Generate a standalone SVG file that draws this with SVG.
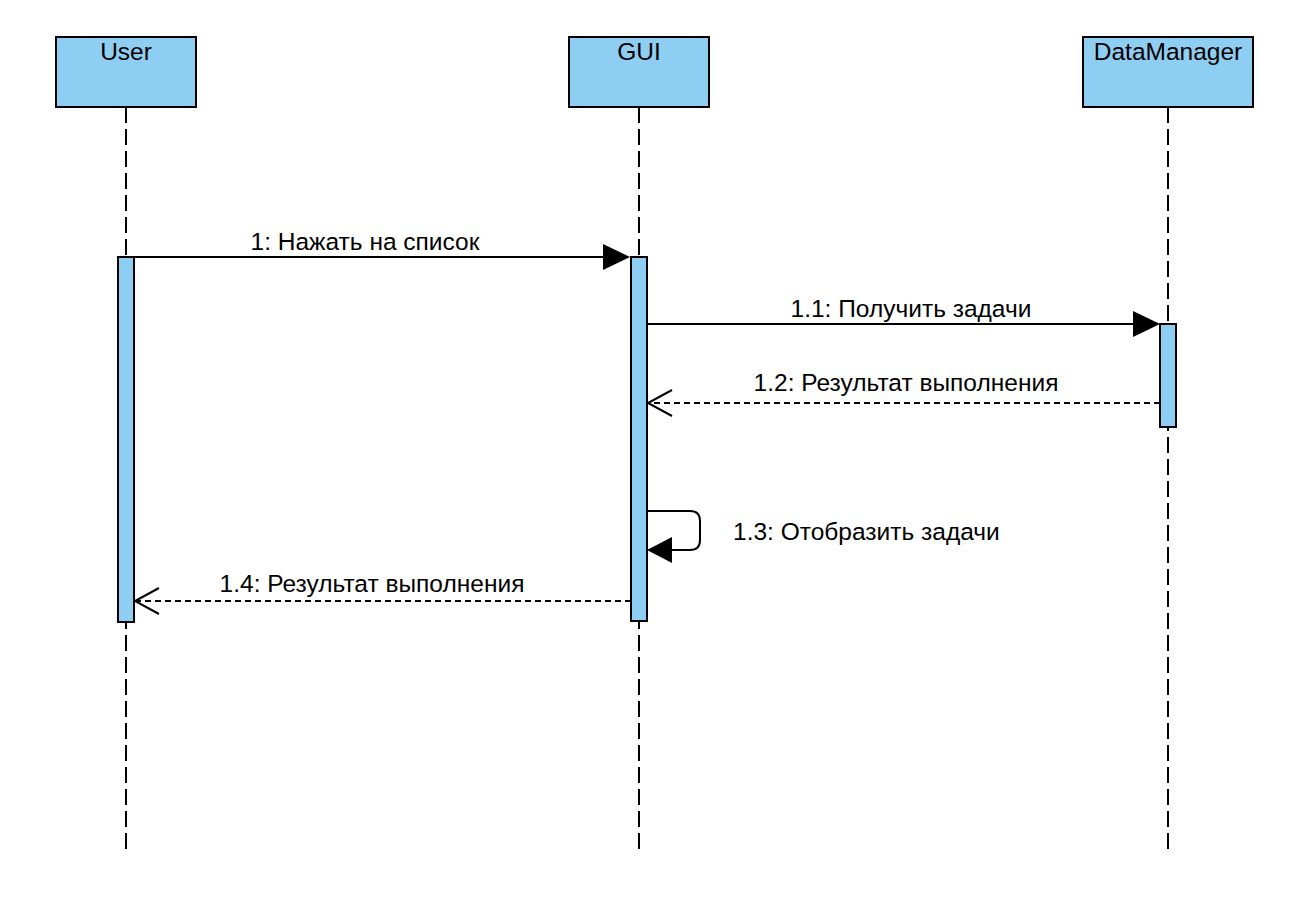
<svg xmlns="http://www.w3.org/2000/svg" width="1294" height="904" viewBox="0 0 1294 904">
  <style>
    .head { fill: #8ecef2; stroke: #000; stroke-width: 2; }
    .act { fill: #8ecef2; stroke: #000; stroke-width: 2; }
    .life { stroke: #000; stroke-width: 2; stroke-dasharray: 16 6; fill: none; }
    .msg { stroke: #000; stroke-width: 2; fill: none; }
    .ret { stroke: #000; stroke-width: 2; fill: none; stroke-dasharray: 6 4; }
    .open { stroke: #000; stroke-width: 2; fill: none; }
    .fill { fill: #000; stroke: none; }
    text { font-family: "Liberation Sans", Arial, Helvetica, sans-serif; font-size: 24.5px; fill: #000; }
    .c { text-anchor: middle; }
  </style>
  <rect width="1294" height="904" fill="#fff"/>

  <!-- lifelines -->
  <g id="user">
    <line class="life" x1="126" y1="107" x2="126" y2="850"/>
    <rect class="head" x="56" y="37" width="140" height="70"/>
    <text class="c" x="126" y="60">User</text>
    <rect class="act" x="118" y="257" width="16" height="365"/>
  </g>
  <g id="gui">
    <line class="life" x1="639" y1="107" x2="639" y2="850"/>
    <rect class="head" x="569" y="37" width="140" height="70"/>
    <text class="c" x="639" y="60">GUI</text>
    <rect class="act" x="631" y="257" width="16" height="364"/>
  </g>
  <g id="datamanager">
    <line class="life" x1="1168" y1="107" x2="1168" y2="850"/>
    <rect class="head" x="1083" y="37" width="170" height="70"/>
    <text class="c" x="1168" y="60">DataManager</text>
    <rect class="act" x="1160" y="324" width="16" height="103"/>
  </g>

  <!-- messages -->
  <g id="connectors">
    <!-- 1 -->
    <line class="msg" x1="134" y1="257" x2="606" y2="257"/>
    <polygon class="fill" points="630,257 603,244 603,270"/>
    <text class="c" x="365" y="250">1: Нажать на список</text>

    <!-- 1.1 -->
    <line class="msg" x1="647" y1="324" x2="1136" y2="324"/>
    <polygon class="fill" points="1160,324 1133,311 1133,337"/>
    <text class="c" x="911" y="317">1.1: Получить задачи</text>

    <!-- 1.2 -->
    <line class="ret" x1="1160" y1="403" x2="649" y2="403"/>
    <polyline class="open" points="672,390 648,403 672,416"/>
    <text class="c" x="906" y="391">1.2: Результат выполнения</text>

    <!-- 1.3 self call -->
    <path class="msg" d="M647,511 H690 Q700,511 700,521 V540 Q700,550 690,550 H670"/>
    <polygon class="fill" points="647,550 672,537 672,563"/>
    <text x="733" y="540">1.3: Отобразить задачи</text>

    <!-- 1.4 -->
    <line class="ret" x1="631" y1="601" x2="136" y2="601"/>
    <polyline class="open" points="159,588 135,601 159,614"/>
    <text class="c" x="372" y="592">1.4: Результат выполнения</text>
  </g>
</svg>
